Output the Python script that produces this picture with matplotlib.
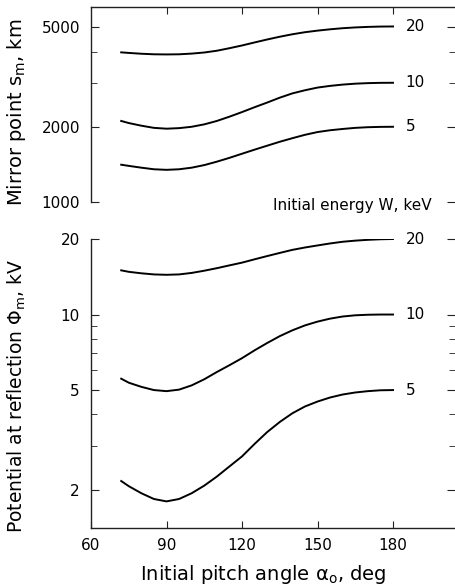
import matplotlib
matplotlib.use('Agg')
import matplotlib.pyplot as plt
from matplotlib.ticker import FixedLocator, NullFormatter, NullLocator

# pitch angle, deg
angle = [72, 75, 80, 85, 90, 95, 100, 105, 110, 115, 120, 125, 130, 135, 140,
         145, 150, 155, 160, 165, 170, 175, 180]

# mirror point s_m, km  (top panel)
sm_5 = [1410, 1395, 1372, 1352, 1345, 1352, 1372, 1405, 1450, 1502, 1560, 1620,
        1680, 1742, 1800, 1857, 1905, 1937, 1960, 1980, 1992, 1998, 2000]
sm_10 = [2110, 2070, 2020, 1980, 1965, 1975, 2000, 2045, 2110, 2195, 2290, 2395,
         2500, 2615, 2720, 2800, 2870, 2915, 2950, 2975, 2990, 2998, 3000]
sm_20 = [3970, 3950, 3920, 3900, 3895, 3900, 3925, 3965, 4030, 4125, 4230, 4350,
         4470, 4585, 4690, 4780, 4850, 4910, 4960, 4995, 5020, 5035, 5040]

# potential at reflection, kV  (bottom panel)
phi_5 = [2.17, 2.07, 1.94, 1.84, 1.80, 1.84, 1.94, 2.08, 2.26, 2.48, 2.72, 3.05,
         3.40, 3.73, 4.04, 4.30, 4.50, 4.67, 4.80, 4.89, 4.95, 4.99, 5.0]
phi_10 = [5.55, 5.35, 5.15, 5.0, 4.95, 5.02, 5.22, 5.52, 5.9, 6.28, 6.7, 7.2,
          7.7, 8.2, 8.65, 9.05, 9.37, 9.63, 9.82, 9.93, 9.98, 10.0, 10.0]
phi_20 = [15.0, 14.8, 14.6, 14.45, 14.4, 14.45, 14.65, 14.95, 15.3, 15.7, 16.1,
          16.6, 17.1, 17.6, 18.1, 18.5, 18.85, 19.2, 19.5, 19.7, 19.85, 19.95, 20.0]

energies = ['5', '10', '20']
xticks = [60, 90, 120, 150, 180]
sm_ticks = [1000, 2000, 5000]
sm_minor = [3000, 4000]
phi_ticks = [2, 5, 10, 20]
phi_minor = [3, 4, 6, 7, 8, 9]

plt.rcParams['font.family'] = 'DejaVu Sans'
spine_c = '#222222'

fig = plt.figure(figsize=(4.55, 5.87), dpi=100)
W, H = 455, 587
ax1 = fig.add_axes([91 / W, 1 - 202 / H, 364 / W, 195 / H])
ax2 = fig.add_axes([91 / W, 1 - 528 / H, 364 / W, 289 / H])

xlim = (60, 60 + 364 * 30 / 75.5)

# top panel
for vals, lab in zip([sm_5, sm_10, sm_20], energies):
    ax1.plot(angle, vals, color='black', lw=1.4)
    ax1.text(185, vals[-1], lab, fontsize=11, va='center', ha='left')
ax1.set_yscale('log')
ax1.set_xlim(*xlim)
ax1.set_ylim(1000, 6030)
ax1.yaxis.set_major_locator(FixedLocator(sm_ticks))
ax1.yaxis.set_minor_locator(FixedLocator(sm_minor))
ax1.yaxis.set_major_formatter(plt.FixedFormatter([str(t) for t in sm_ticks]))
ax1.yaxis.set_minor_formatter(NullFormatter())
ax1.xaxis.set_major_locator(FixedLocator(xticks[1:]))
ax1.xaxis.set_minor_locator(NullLocator())
ax1.spines['bottom'].set_visible(False)
ax1.spines['right'].set_visible(False)
ax1.tick_params(axis='x', which='both', direction='in', top=True, bottom=False,
                labeltop=False, labelbottom=False, length=5, color=spine_c)
ax1.tick_params(axis='y', which='major', direction='in', left=True, right=True,
                length=6, labelsize=11, pad=8, color=spine_c)
ax1.tick_params(axis='y', which='minor', direction='in', left=True, right=True,
                length=4, color=spine_c)

# bottom panel
for vals, lab in zip([phi_5, phi_10, phi_20], energies):
    ax2.plot(angle, vals, color='black', lw=1.4)
    ax2.text(185, vals[-1], lab, fontsize=11, va='center', ha='left')
ax2.set_yscale('log')
ax2.set_xlim(*xlim)
ax2.set_ylim(1.41, 20)
ax2.yaxis.set_major_locator(FixedLocator(phi_ticks))
ax2.yaxis.set_minor_locator(FixedLocator(phi_minor))
ax2.yaxis.set_major_formatter(plt.FixedFormatter([str(t) for t in phi_ticks]))
ax2.yaxis.set_minor_formatter(NullFormatter())
ax2.xaxis.set_major_locator(FixedLocator(xticks))
ax2.xaxis.set_minor_locator(NullLocator())
ax2.spines['top'].set_visible(False)
ax2.spines['right'].set_visible(False)
ax2.tick_params(axis='x', which='major', direction='in', length=5, labelsize=11,
                pad=7, color=spine_c)
ax2.tick_params(axis='y', which='major', direction='in', left=True, right=True,
                length=6, labelsize=11, pad=8, color=spine_c)
ax2.tick_params(axis='y', which='minor', direction='in', left=True, right=True,
                length=4, color=spine_c)

for ax in (ax1, ax2):
    for s in ax.spines.values():
        s.set_color(spine_c)
        s.set_linewidth(1.0)

fig.text(432 / W, 1 - 210 / H, 'Initial energy W, keV', fontsize=11,
         ha='right', va='baseline')
fig.text(140 / W, 1 - 574 / H, 'Initial pitch angle α$_\\mathrm{o}$, deg',
         fontsize=14, ha='left', va='center')
fig.text(17 / W, 1 - 112 / H, 'Mirror point s$_\\mathrm{m}$, km', fontsize=14,
         rotation=90, ha='center', va='center')
fig.text(17 / W, 1 - 396 / H, 'Potential at reflection Φ$_\\mathrm{m}$, kV',
         fontsize=13.5, rotation=90, ha='center', va='center')

fig.savefig('out.png', dpi=100)
